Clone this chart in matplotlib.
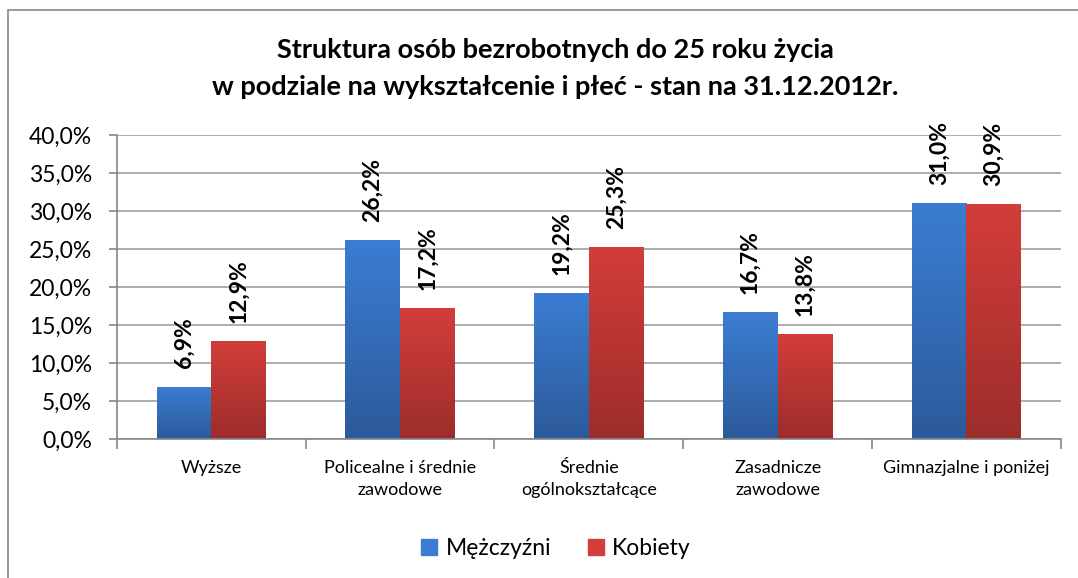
import matplotlib.pyplot as plt
import numpy as np
from matplotlib.colors import LinearSegmentedColormap
from matplotlib.patches import Rectangle
from matplotlib.ticker import FuncFormatter

plt.rcParams['font.family'] = ['Lato', 'DejaVu Sans']

categories = ['Wyższe', 'Policealne i średnie\nzawodowe', 'Średnie\nogólnokształcące',
              'Zasadnicze\nzawodowe', 'Gimnazjalne i poniżej']
men = [6.9, 26.2, 19.2, 16.7, 31.0]
women = [12.9, 17.2, 25.3, 13.8, 30.9]
series_names = ['Mężczyźni', 'Kobiety']

blue_top, blue_bot = '#3B7DD3', '#2C5A9A'
red_top, red_bot = '#D33D3A', '#9C2D2B'

fig = plt.figure(figsize=(10.78, 5.78), dpi=100)
ax = fig.add_axes([0.1085, 0.2405, 0.8755, 0.5260])

x = np.arange(len(categories))
w = 0.29


def gradient_bars(xs, vals, top, bot, label):
    bars = ax.bar(xs, vals, width=w, color=top, label=label, zorder=2)
    cmap = LinearSegmentedColormap.from_list('g', [bot, top])
    grad = np.linspace(0, 1, 256).reshape(-1, 1)
    for b in bars:
        x0, y0 = b.get_x(), b.get_y()
        bw, bh = b.get_width(), b.get_height()
        im = ax.imshow(grad, cmap=cmap, aspect='auto', origin='lower',
                       extent=[x0, x0 + bw, y0, y0 + bh], zorder=2.5)
        im.set_clip_path(b)
    return bars


b1 = gradient_bars(x - w / 2, men, blue_top, blue_bot, series_names[0])
b2 = gradient_bars(x + w / 2, women, red_top, red_bot, series_names[1])

for xs, vals in [(x - w / 2, men), (x + w / 2, women)]:
    for xi, v in zip(xs, vals):
        ax.annotate(f'{v:.1f}%'.replace('.', ','), (xi, v), xytext=(0, 13),
                    textcoords='offset points', rotation=90, ha='center',
                    va='bottom', fontsize=16.5, fontweight='bold', zorder=4)

ax.set_xlim(-0.5, len(categories) - 0.5)
ax.set_ylim(0, 40)
ax.set_yticks(np.arange(0, 41, 5))
ax.yaxis.set_major_formatter(FuncFormatter(lambda v, p: f'{v:.1f}%'.replace('.', ',')))
ax.grid(axis='y', color='#A0A0A0', linewidth=1.2, zorder=0)
ax.set_axisbelow(True)

ax.set_xticks(x)
ax.set_xticklabels(categories, fontsize=13, linespacing=1.5)
ax.set_xticks(np.arange(-0.5, len(categories)), minor=True)
ax.tick_params(axis='x', which='major', length=0, pad=15)
ax.tick_params(axis='x', which='minor', length=7, color='#888888', width=1.2)
ax.tick_params(axis='y', length=6, color='#888888', width=1.2, labelsize=16.5, pad=12)

for s in ['top', 'right']:
    ax.spines[s].set_visible(False)
for s in ['left', 'bottom']:
    ax.spines[s].set_color('#888888')
    ax.spines[s].set_linewidth(1.2)

fig.text(0.515, 0.882, 'Struktura osób bezrobotnych do 25 roku życia\n'
         'w podziale na wykształcenie i płeć - stan na 31.12.2012r.',
         ha='center', va='center', fontsize=19.5, fontweight='bold', linespacing=1.65)

ax.legend(handles=[Rectangle((0, 0), 1, 1, color=blue_top),
                   Rectangle((0, 0), 1, 1, color=red_top)],
          labels=series_names, loc='center', bbox_to_anchor=(0.465, -0.36),
          ncol=2, frameon=False, fontsize=16.5, handlelength=0.7, handleheight=0.7,
          handletextpad=0.35, columnspacing=1.6)

fig.patches.append(Rectangle((8 / 1078, -0.1), 1.2, 1 - 10 / 578 + 0.1,
                             transform=fig.transFigure, fill=False,
                             edgecolor='#888888', linewidth=1.2))

fig.savefig('out.png', dpi=100)
